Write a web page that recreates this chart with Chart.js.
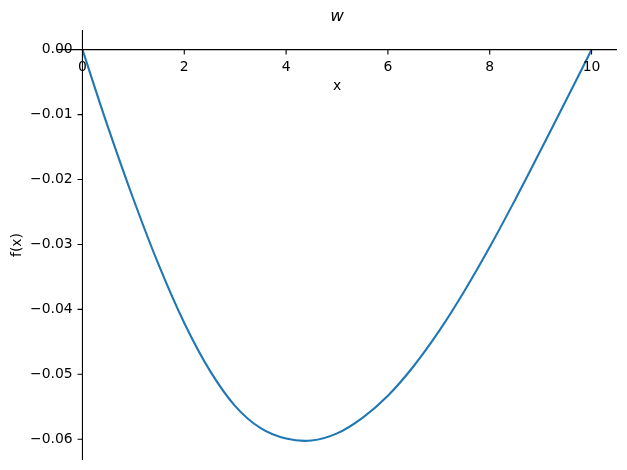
<!DOCTYPE html>
<html>
<head>
<meta charset="utf-8">
<script src="https://cdn.jsdelivr.net/npm/chart.js@4/dist/chart.umd.min.js"></script>
<style>
  html, body { margin: 0; padding: 0; background: #fff; }
  #wrap { width: 627px; height: 470px; }
</style>
</head>
<body>
<div id="wrap"><canvas id="chart"></canvas></div>
<script>
// values
const xValues = [0, 0.5, 1, 1.5, 2, 2.5, 3, 3.5, 4, 4.5, 5, 5.5, 6, 6.5, 7, 7.5, 8, 8.5, 9, 9.5, 10];
const wValues = [0, -0.0119, -0.0230, -0.0332, -0.0421, -0.0494, -0.0549, -0.0583, -0.0599, -0.0602,
                 -0.0591, -0.0567, -0.0533, -0.0488, -0.0434, -0.0372, -0.0304, -0.0231, -0.0155, -0.0078, 0];
const xTicks = [0, 2, 4, 6, 8, 10];
const yTicks = [0, -0.01, -0.02, -0.03, -0.04, -0.05, -0.06];
const yTickLabels = ["0.00", "\u22120.01", "\u22120.02", "\u22120.03", "\u22120.04", "\u22120.05", "\u22120.06"];

const FONT = "'DejaVu Sans', sans-serif";

// matplotlib-like spines through the origin, drawn from the scales
const centeredAxes = {
    id: "centeredAxes",
    afterDatasetsDraw(chart) {
        const { ctx, chartArea } = chart;
        const xs = chart.scales.x;
        const ys = chart.scales.y;
        const x0 = xs.getPixelForValue(0);
        const y0 = ys.getPixelForValue(0);
        const tick = 4.9;

        ctx.save();
        ctx.strokeStyle = "#000";
        ctx.lineWidth = 1.1;
        ctx.beginPath();
        ctx.moveTo(chartArea.left, y0);
        ctx.lineTo(chartArea.right, y0);
        ctx.moveTo(x0, chartArea.top);
        ctx.lineTo(x0, chartArea.bottom);
        xTicks.forEach((v) => {
            const px = xs.getPixelForValue(v);
            ctx.moveTo(px, y0);
            ctx.lineTo(px, y0 + tick);
        });
        yTicks.forEach((v) => {
            const py = ys.getPixelForValue(v);
            ctx.moveTo(x0, py);
            ctx.lineTo(x0 - tick, py);
        });
        ctx.stroke();

        ctx.fillStyle = "#000";
        ctx.font = `13.9px ${FONT}`;
        ctx.textAlign = "center";
        ctx.textBaseline = "top";
        xTicks.forEach((v) => {
            ctx.fillText(String(v), xs.getPixelForValue(v), y0 + tick + 5.5);
        });
        ctx.textAlign = "right";
        ctx.textBaseline = "middle";
        yTicks.forEach((v, i) => {
            ctx.fillText(yTickLabels[i], x0 - tick - 4.9, ys.getPixelForValue(v));
        });

        const midX = (chartArea.left + chartArea.right) / 2;
        const midY = (chartArea.top + chartArea.bottom) / 2;
        ctx.textAlign = "center";
        ctx.textBaseline = "top";
        ctx.fillText("x", midX, y0 + tick + 4.9 + 13.9 + 6);

        ctx.save();
        ctx.translate(17, midY);
        ctx.rotate(-Math.PI / 2);
        ctx.textBaseline = "middle";
        ctx.fillText("f(x)", 0, 0);
        ctx.restore();

        ctx.font = `italic 16.7px ${FONT}`;
        ctx.textBaseline = "middle";
        ctx.fillText("w", midX, 17);
        ctx.restore();
    },
};

new Chart(document.getElementById("chart"), {
    type: "line",
    data: {
        datasets: [
            {
                data: xValues.map((x, i) => ({ x, y: wValues[i] })),
                borderColor: "#1f77b4",
                borderWidth: 2.1,
                pointRadius: 0,
                tension: 0.4,
                fill: false,
            },
        ],
    },
    options: {
        responsive: true,
        maintainAspectRatio: false,
        animation: false,
        layout: {
            padding: { left: 57, right: 10, top: 30, bottom: 10 },
        },
        plugins: {
            legend: { display: false },
            tooltip: { enabled: false },
        },
        scales: {
            x: {
                type: "linear",
                min: -0.5,
                max: 10.5,
                display: false,
            },
            y: {
                type: "linear",
                min: -0.0632,
                max: 0.00303,
                display: false,
            },
        },
    },
    plugins: [centeredAxes],
});
</script>
</body>
</html>
